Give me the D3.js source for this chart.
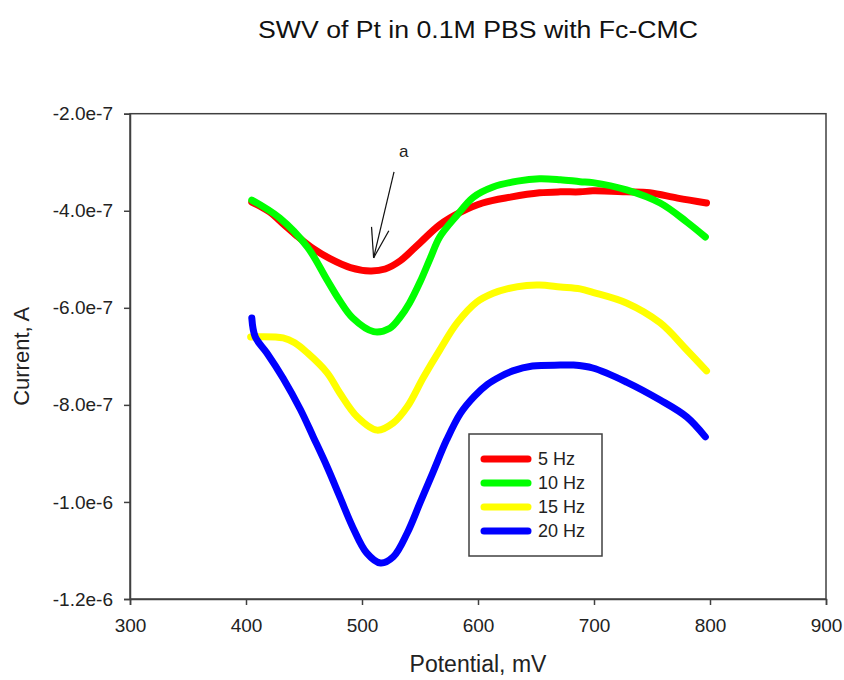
<!DOCTYPE html>
<html>
<head>
<meta charset="utf-8">
<script src="https://cdn.jsdelivr.net/npm/d3@7"></script>
<style>
  body { margin: 0; background: #fff; }
  svg { font-family: "Liberation Sans", Arial, sans-serif; }
</style>
</head>
<body>
<div id="chart"></div>
<script>
// potentials in mV, currents in units of 1e-7 A
const potential5 = [405, 420, 432, 444, 458, 472, 490, 507, 520, 533, 550, 567, 585, 604, 628, 653, 671, 688, 699, 728, 748, 772, 797];
const current5 = [-3.82, -4.02, -4.27, -4.52, -4.78, -4.98, -5.17, -5.24, -5.20, -5.03, -4.66, -4.29, -4.03, -3.84, -3.72, -3.63, -3.61, -3.61, -3.59, -3.61, -3.63, -3.74, -3.84];

const potential10 = [405, 429, 453, 470, 481, 492, 510, 524, 533, 541, 550, 559, 567, 582, 596, 613, 634, 653, 671, 688, 699, 728, 757, 780, 796];
const current10 = [-3.78, -4.15, -4.75, -5.43, -5.86, -6.21, -6.49, -6.42, -6.19, -5.90, -5.47, -4.97, -4.54, -4.09, -3.72, -3.51, -3.39, -3.34, -3.36, -3.40, -3.42, -3.57, -3.84, -4.23, -4.54];

const potential15 = [404, 432, 442, 453, 470, 481, 496, 513, 527, 539, 553, 567, 582, 599, 613, 625, 642, 653, 671, 688, 699, 728, 757, 780, 797];
const current15 = [-6.60, -6.62, -6.72, -6.93, -7.34, -7.76, -8.25, -8.52, -8.37, -8.04, -7.43, -6.87, -6.31, -5.88, -5.70, -5.61, -5.54, -5.53, -5.57, -5.61, -5.68, -5.90, -6.31, -6.87, -7.30];

const potential20 = [405, 408, 418, 432, 447, 458, 470, 481, 492, 504, 516, 527, 539, 550, 561, 573, 585, 597, 608, 619, 630, 647, 671, 682, 699, 728, 757, 780, 796];
const current20 = [-6.21, -6.60, -6.93, -7.45, -8.10, -8.66, -9.28, -9.90, -10.52, -11.05, -11.26, -11.13, -10.64, -10.02, -9.40, -8.72, -8.17, -7.82, -7.58, -7.42, -7.30, -7.20, -7.18, -7.18, -7.24, -7.53, -7.90, -8.25, -8.66];

const seriesNames = ["5 Hz", "10 Hz", "15 Hz", "20 Hz"];
const seriesColors = ["#ff0000", "#00ff00", "#ffff00", "#0000ff"];
const xTicks = [300, 400, 500, 600, 700, 800, 900];
const yTicks = [-2e-7, -4e-7, -6e-7, -8e-7, -1.0e-6, -1.2e-6];

const series = [
  [potential5, current5],
  [potential10, current10],
  [potential15, current15],
  [potential20, current20]
].map(([xs, ys], i) => ({
  name: seriesNames[i],
  color: seriesColors[i],
  values: xs.map((x, j) => ({ x: x, y: ys[j] * 1e-7 }))
}));

const width = 844, height = 680;
const plotLeft = 130, plotRight = 826, plotTop = 113.7, plotBottom = 599;

const svg = d3.select("#chart").append("svg")
  .attr("width", width)
  .attr("height", height);

const xScale = d3.scaleLinear().domain([300, 900]).range([plotLeft, plotRight]);
const yScale = d3.scaleLinear().domain([-1.2e-6, -2e-7]).range([plotBottom, plotTop]);

const locale = d3.formatLocale({ decimal: ".", thousands: ",", grouping: [3], currency: ["", ""], minus: "-" });
const sci = locale.format(".1e");

// frame
svg.append("rect")
  .attr("x", plotLeft).attr("y", plotTop)
  .attr("width", plotRight - plotLeft).attr("height", plotBottom - plotTop)
  .attr("fill", "none")
  .attr("stroke", "#404040")
  .attr("stroke-width", 1.5);

const xAxis = svg.append("g")
  .attr("transform", `translate(0,${plotBottom})`)
  .call(d3.axisBottom(xScale).tickValues(xTicks).tickSize(6).tickPadding(14).tickFormat(d3.format("d")));

const yAxis = svg.append("g")
  .attr("transform", `translate(${plotLeft},0)`)
  .call(d3.axisLeft(yScale).tickValues(yTicks).tickSize(6).tickPadding(11).tickFormat(sci));

[xAxis, yAxis].forEach(g => {
  g.select(".domain").attr("stroke", "#404040").attr("stroke-width", 1.5);
  g.selectAll(".tick line").attr("stroke", "#404040").attr("stroke-width", 1.5);
  g.selectAll(".tick text")
    .attr("fill", "#222")
    .style("font-family", "'Liberation Sans', Arial, sans-serif")
    .style("font-size", "19px");
});

const line = d3.line()
  .x(d => xScale(d.x))
  .y(d => yScale(d.y))
  .curve(d3.curveCatmullRom.alpha(0.5));

series.forEach(s => {
  svg.append("path")
    .datum(s.values)
    .attr("fill", "none")
    .attr("stroke", s.color)
    .attr("stroke-width", 7)
    .attr("stroke-linecap", "round")
    .attr("stroke-linejoin", "round")
    .attr("d", line);
});

// title and axis labels
svg.append("text")
  .attr("x", (plotLeft + plotRight) / 2)
  .attr("y", 38)
  .attr("text-anchor", "middle")
  .attr("textLength", 440)
  .attr("lengthAdjust", "spacingAndGlyphs")
  .style("font-size", "23px")
  .attr("fill", "#111")
  .text("SWV of Pt in 0.1M PBS with Fc-CMC");

svg.append("text")
  .attr("x", (plotLeft + plotRight) / 2)
  .attr("y", 672)
  .attr("text-anchor", "middle")
  .style("font-size", "23px")
  .attr("fill", "#222")
  .text("Potential, mV");

svg.append("text")
  .attr("transform", `translate(29,${(plotTop + plotBottom) / 2}) rotate(-90)`)
  .attr("text-anchor", "middle")
  .style("font-size", "22px")
  .attr("fill", "#222")
  .text("Current, A");

// annotation "a" with open arrow pointing at the 5 Hz minimum
const tipX = 510, tipY = -4.97e-7;
const tailX = 527.6, tailY = -3.2e-7;
const tip = [xScale(tipX), yScale(tipY)], tail = [xScale(tailX), yScale(tailY)];
const ang = Math.atan2(tail[1] - tip[1], tail[0] - tip[0]);
const ann = svg.append("g").attr("stroke", "#111").attr("stroke-width", 1.2).attr("fill", "none");
ann.append("line")
  .attr("x1", tail[0]).attr("y1", tail[1])
  .attr("x2", tip[0]).attr("y2", tip[1]);
[-0.3, 0.28].forEach(da => {
  ann.append("line")
    .attr("x1", tip[0]).attr("y1", tip[1])
    .attr("x2", tip[0] + 31 * Math.cos(ang + da))
    .attr("y2", tip[1] + 31 * Math.sin(ang + da));
});
svg.append("text")
  .attr("x", xScale(536))
  .attr("y", 157)
  .attr("text-anchor", "middle")
  .style("font-size", "17px")
  .attr("fill", "#222")
  .text("a");

// legend
const legend = svg.append("g");
legend.append("rect")
  .attr("x", 469).attr("y", 434)
  .attr("width", 133).attr("height", 122)
  .attr("fill", "#fff")
  .attr("stroke", "#404040")
  .attr("stroke-width", 1.5);

series.forEach((s, i) => {
  const ly = 459 + i * 24;
  legend.append("line")
    .attr("x1", 484).attr("x2", 528)
    .attr("y1", ly).attr("y2", ly)
    .attr("stroke", s.color)
    .attr("stroke-width", 7)
    .attr("stroke-linecap", "round");
  legend.append("text")
    .attr("x", 538)
    .attr("y", ly + 6)
    .style("font-size", "18px")
    .attr("fill", "#222")
    .text(s.name);
});
</script>
</body>
</html>
